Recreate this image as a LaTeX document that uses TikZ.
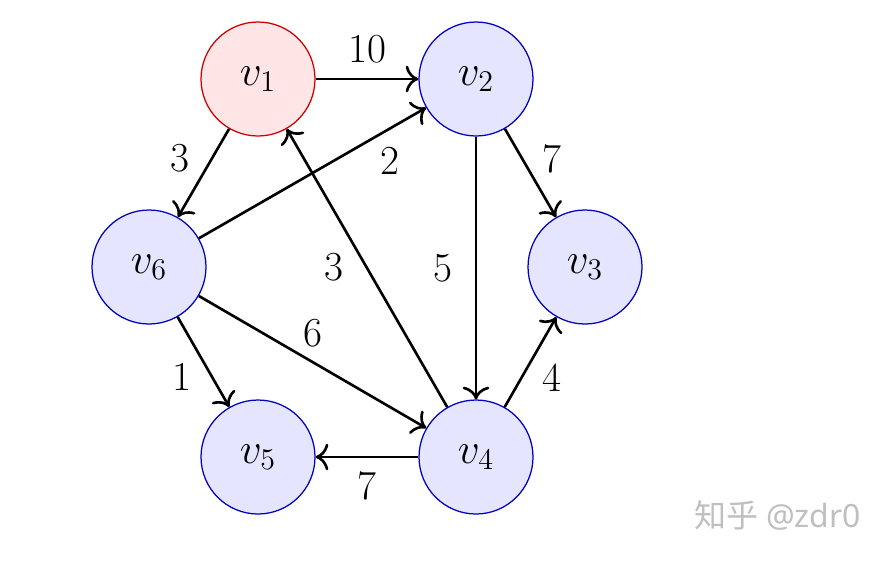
\documentclass[tikz,border=0pt]{standalone}
\usepackage{fontspec}
\newfontfamily\cjk{Noto Sans CJK SC}
\newfontfamily\wmfont{Noto Sans}
\usetikzlibrary{arrows.meta}
\begin{document}
\begin{tikzpicture}[x=0.4pt,y=-0.4pt,
  vtx/.style={circle,draw=blue!75!black,fill=blue!10,line width=0.5pt,minimum size=45.6pt,inner sep=0pt,font=\fontsize{16.5}{19}\selectfont},
  src/.style={vtx,draw=red!80!black,fill=red!10},
  arc/.style={-{To[scale=1.3]},line width=1.05pt},
  wt/.style={font=\fontsize{16.5}{19}\selectfont,inner sep=0pt}]
\useasboundingbox (0,0) rectangle (877,561);
\node[src] (v1) at (258,79) {$v_1$};
\node[vtx] (v2) at (476,79) {$v_2$};
\node[vtx] (v3) at (585,267) {$v_3$};
\node[vtx] (v4) at (476,457) {$v_4$};
\node[vtx] (v5) at (258,457) {$v_5$};
\node[vtx] (v6) at (149,267) {$v_6$};
\draw[arc] (v1) -- (v2) node[wt,pos=.5,shift={(0,-30)}] (w1) {10};
\draw[arc] (v1) -- (v6) node[wt,pos=.5,shift={(-23.5,-15)}] (w2) {3};
\draw[arc] (v6) -- (v2) node[wt,pos=.5,shift={(77.5,-12.5)}] (w3) {2};
\draw[arc] (v2) -- (v3) node[wt,pos=.5,shift={(21.5,-14.5)}] (w4) {7};
\draw[arc] (v4) -- (v1) node[wt,pos=.5,shift={(-33,-1)}] (w5) {3};
\draw[arc] (v2) -- (v4) node[wt,pos=.5,shift={(-33,0)}] (w6) {5};
\draw[arc] (v6) -- (v4) node[wt,pos=.5,shift={(0.5,-29)}] (w7) {6};
\draw[arc] (v6) -- (v5) node[wt,pos=.5,shift={(-21.5,15)}] (w8) {1};
\draw[arc] (v4) -- (v3) node[wt,pos=.5,shift={(21.5,16)}] (w9) {4};
\draw[arc] (v4) -- (v5) node[wt,pos=.5,shift={(0,29)}] (w10) {7};
\node[text=black!25,inner sep=0pt,font=\fontsize{12.8}{15}\selectfont] (wm) at (778,515) {\cjk 知乎\ \wmfont @zdr0};
\end{tikzpicture}
\end{document}
